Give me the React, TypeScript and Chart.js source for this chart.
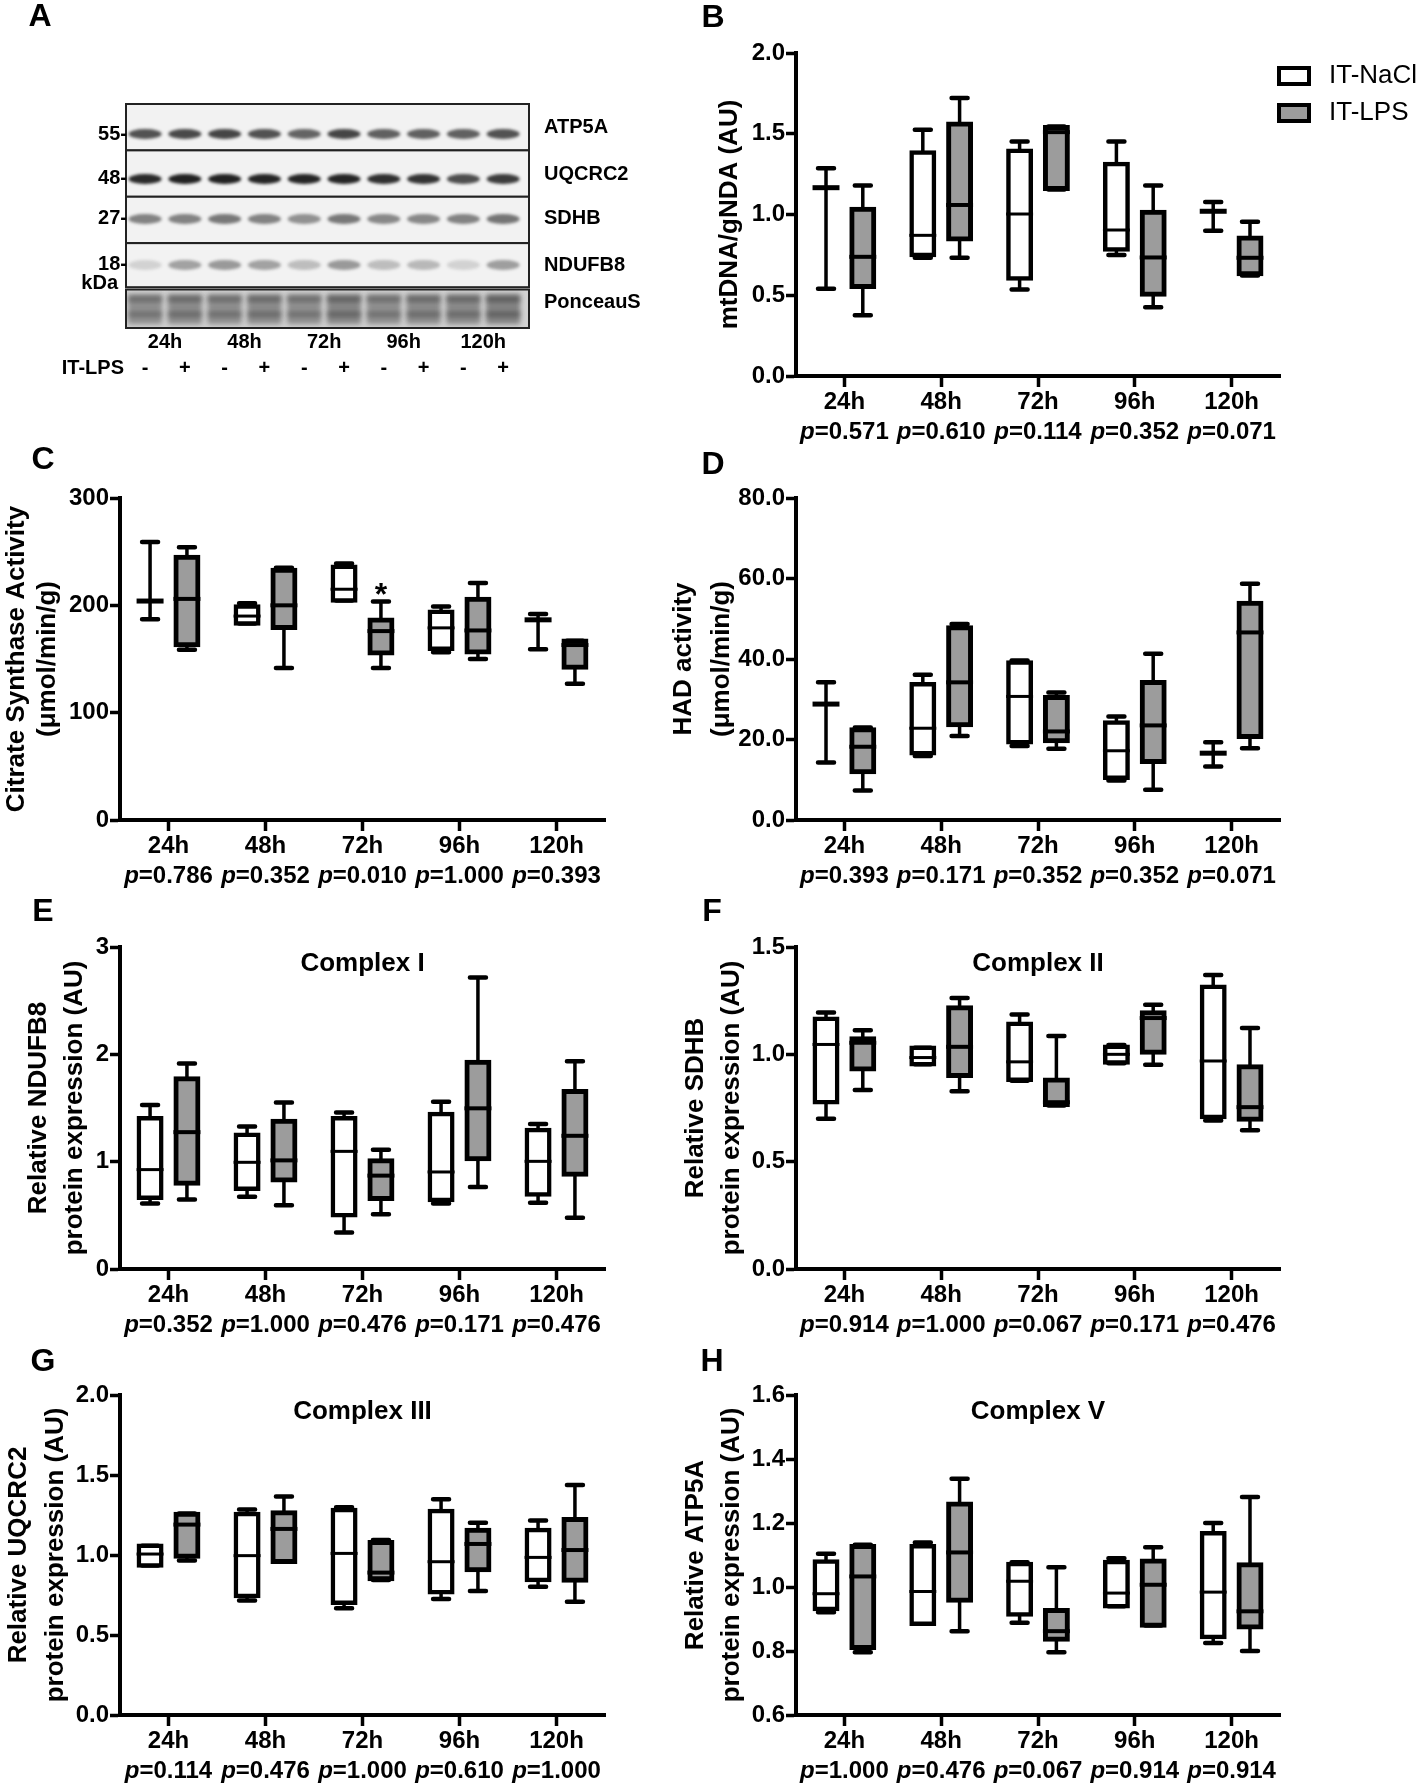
import React, { useEffect, useRef } from 'react';
import { Chart, registerables } from 'chart.js';

Chart.register(...registerables);

const FONT = "'Liberation Sans', Arial, Helvetica, sans-serif";
const GRAY = '#9c9c9c';

// ---------------- data ----------------
const TIMEPOINTS = ['24h', '48h', '72h', '96h', '120h'];
const GROUPS = ['IT-NaCl', 'IT-LPS'];

// each box: [min, q1, median, q3, max]
const mtDNA_NaCl = [[0.54, 1.166, 1.166, 1.166, 1.287], [0.732, 0.749, 0.871, 1.384, 1.524], [0.536, 0.604, 1.003, 1.394, 1.452], [0.749, 0.784, 0.904, 1.313, 1.452], [0.9, 1.02, 1.02, 1.02, 1.078]];
const mtDNA_LPS = [[0.376, 0.552, 0.738, 1.034, 1.179], [0.732, 0.846, 1.059, 1.562, 1.721], [1.155, 1.16, 1.51, 1.54, 1.545], [0.426, 0.505, 0.734, 1.016, 1.179], [0.623, 0.631, 0.732, 0.856, 0.955]];
const mtDNA_p = ['0.571', '0.610', '0.114', '0.352', '0.071'];

const cs_NaCl = [[187, 204, 204, 204, 259], [183, 183, 190, 199, 202], [204.6, 204.6, 215, 236, 239], [156.4, 159.5, 179, 194, 199], [159, 186.5, 186.5, 186.5, 192]];
const cs_LPS = [[158.6, 163, 206, 245, 254], [141.5, 179, 200, 233, 235], [141.5, 155.4, 176, 186.5, 203.6], [150, 156.4, 176.6, 206, 220.7], [127, 142, 163, 167, 167]];
const cs_p = ['0.786', '0.352', '0.010', '1.000', '0.393'];

const had_NaCl = [[14.3, 28.8, 28.8, 28.8, 34.2], [15.9, 16.6, 22.8, 33.7, 36.1], [18.4, 19.3, 30.7, 39.1, 39.6], [9.8, 10.5, 17.2, 24.2, 25.7], [13.3, 16.6, 16.6, 16.6, 19.3]];
const had_LPS = [[7.3, 11.9, 18.2, 22.5, 23.0], [20.9, 23.6, 34.2, 47.8, 48.7], [17.7, 19.6, 22.0, 30.5, 31.7], [7.5, 14.5, 23.5, 34.2, 41.3], [17.8, 20.7, 46.6, 53.9, 58.7]];
const had_p = ['0.393', '0.171', '0.352', '0.352', '0.071'];

const ndufb8_NaCl = [[0.611, 0.664, 0.926, 1.404, 1.528], [0.673, 0.747, 0.994, 1.25, 1.327], [0.34, 0.5, 1.096, 1.404, 1.457], [0.611, 0.642, 0.904, 1.444, 1.559], [0.617, 0.694, 1.003, 1.296, 1.352]];
const ndufb8_LPS = [[0.648, 0.796, 1.275, 1.775, 1.914], [0.593, 0.827, 1.012, 1.38, 1.552], [0.509, 0.654, 0.87, 1.012, 1.111], [0.765, 1.025, 1.497, 1.929, 2.716], [0.478, 0.88, 1.241, 1.657, 1.935]];
const ndufb8_p = ['0.352', '1.000', '0.476', '0.171', '0.476'];

const sdhb_NaCl = [[0.7, 0.777, 1.046, 1.166, 1.195], [0.954, 0.954, 0.985, 1.031, 1.031], [0.877, 0.882, 0.965, 1.142, 1.185], [0.958, 0.962, 1.0, 1.035, 1.043], [0.692, 0.708, 0.969, 1.315, 1.369]];
const sdhb_LPS = [[0.834, 0.931, 1.054, 1.074, 1.112], [0.828, 0.9, 1.035, 1.218, 1.262], [0.762, 0.765, 0.777, 0.882, 1.085], [0.951, 1.008, 1.169, 1.195, 1.231], [0.646, 0.697, 0.754, 0.943, 1.123]];
const sdhb_p = ['0.914', '1.000', '0.067', '0.171', '0.476'];

const uqcrc2_NaCl = [[0.935, 0.935, 1.006, 1.058, 1.058], [0.715, 0.744, 0.996, 1.256, 1.285], [0.667, 0.702, 1.01, 1.281, 1.298], [0.725, 0.767, 0.958, 1.275, 1.348], [0.802, 0.844, 0.985, 1.156, 1.215]];
const uqcrc2_LPS = [[0.965, 0.99, 1.19, 1.256, 1.26], [0.958, 0.958, 1.163, 1.265, 1.365], [0.844, 0.85, 0.89, 1.079, 1.094], [0.775, 0.906, 1.069, 1.156, 1.202], [0.708, 0.84, 1.031, 1.223, 1.4375]];
const uqcrc2_p = ['0.114', '0.476', '1.000', '0.610', '1.000'];

const atp5a_NaCl = [[0.921, 0.931, 0.979, 1.08, 1.104], [0.885, 0.885, 0.986, 1.127, 1.139], [0.888, 0.914, 1.018, 1.072, 1.077], [0.94, 0.94, 0.981, 1.078, 1.09], [0.825, 0.844, 0.984, 1.168, 1.2]];
const atp5a_LPS = [[0.796, 0.81, 1.033, 1.127, 1.132], [0.862, 0.958, 1.108, 1.26, 1.338], [0.796, 0.836, 0.862, 0.927, 1.062], [0.88, 0.88, 1.007, 1.082, 1.124], [0.8, 0.874, 0.924, 1.07, 1.281]];
const atp5a_p = ['1.000', '0.476', '0.067', '0.914', '0.914'];

// western blot (panel A)
const BLOT_PROTEINS = ['ATP5A', 'UQCRC2', 'SDHB', 'NDUFB8', 'PonceauS'];
const BLOT_MARKERS = ['55', '48', '27', '18'];
const BLOT_LPS_SIGNS = ['-', '+', '-', '+', '-', '+', '-', '+', '-', '+'];
const BAND_ATP5A = [0.72, 0.76, 0.78, 0.72, 0.64, 0.78, 0.66, 0.66, 0.66, 0.72];
const BAND_UQCRC2 = [0.9, 0.94, 0.94, 0.92, 0.92, 0.92, 0.88, 0.86, 0.74, 0.82];
const BAND_SDHB = [0.5, 0.5, 0.55, 0.5, 0.44, 0.55, 0.48, 0.48, 0.5, 0.56];
const BAND_NDUFB8 = [0.14, 0.36, 0.4, 0.36, 0.24, 0.4, 0.24, 0.26, 0.14, 0.38];
const BAND_PONCEAU = [0.55, 0.58, 0.56, 0.58, 0.55, 0.62, 0.55, 0.58, 0.6, 0.66];

// ---------------- layout ----------------
const COL_L = { left: 0, width: 640, l: 120, r: 605, yW: 120 };
const COL_R = { left: 640, width: 778, l: 796, r: 1280, yW: 150 };
const ROWS = [
  { top: 0, height: 445, t: 53, b: 376 },
  { top: 445, height: 448, t: 498, b: 820 },
  { top: 893, height: 447, t: 947, b: 1269 },
  { top: 1340, height: 445, t: 1395, b: 1715 },
];
const X_AXIS_H = 40;
const TITLE_SIZE = 26;
const INFLATE = 2.25;
const CAP = 16;

interface PanelCfg {
  letter: string;
  letterPos: number[];
  col: typeof COL_L;
  row: typeof ROWS[0];
  yMin: number; yMax: number; yStep: number; yDec: number;
  yTitle: string[]; yTitleX: number; yTitleSpacing: number;
  nacl: number[][]; lps: number[][]; pvals: string[];
  complex?: string;
  stars?: { cat: number; group: number }[];
  legend?: boolean;
}

const PANELS: PanelCfg[] = [
  { letter: 'B', letterPos: [713, 18], col: COL_R, row: ROWS[0], yMin: 0, yMax: 2, yStep: 0.5, yDec: 1, yTitle: ['mtDNA/gNDA (AU)'], yTitleX: 730, yTitleSpacing: 31, nacl: mtDNA_NaCl, lps: mtDNA_LPS, pvals: mtDNA_p, legend: true },
  { letter: 'C', letterPos: [43, 460], col: COL_L, row: ROWS[1], yMin: 0, yMax: 300, yStep: 100, yDec: 0, yTitle: ['Citrate Synthase Activity', '(μmol/min/g)'], yTitleX: 17, yTitleSpacing: 31, nacl: cs_NaCl, lps: cs_LPS, pvals: cs_p, stars: [{ cat: 2, group: 1 }] },
  { letter: 'D', letterPos: [713, 465], col: COL_R, row: ROWS[1], yMin: 0, yMax: 80, yStep: 20, yDec: 1, yTitle: ['HAD activity', '(μmol/min/g)'], yTitleX: 684, yTitleSpacing: 37.5, nacl: had_NaCl, lps: had_LPS, pvals: had_p },
  { letter: 'E', letterPos: [43, 912], col: COL_L, row: ROWS[2], yMin: 0, yMax: 3, yStep: 1, yDec: 0, yTitle: ['Relative NDUFB8', 'protein expression (AU)'], yTitleX: 39, yTitleSpacing: 36, nacl: ndufb8_NaCl, lps: ndufb8_LPS, pvals: ndufb8_p, complex: 'Complex I' },
  { letter: 'F', letterPos: [712, 912], col: COL_R, row: ROWS[2], yMin: 0, yMax: 1.5, yStep: 0.5, yDec: 1, yTitle: ['Relative SDHB', 'protein expression (AU)'], yTitleX: 696, yTitleSpacing: 36, nacl: sdhb_NaCl, lps: sdhb_LPS, pvals: sdhb_p, complex: 'Complex II' },
  { letter: 'G', letterPos: [43, 1362], col: COL_L, row: ROWS[3], yMin: 0, yMax: 2, yStep: 0.5, yDec: 1, yTitle: ['Relative UQCRC2', 'protein expression (AU)'], yTitleX: 19, yTitleSpacing: 37, nacl: uqcrc2_NaCl, lps: uqcrc2_LPS, pvals: uqcrc2_p, complex: 'Complex III' },
  { letter: 'H', letterPos: [712, 1362], col: COL_R, row: ROWS[3], yMin: 0.6, yMax: 1.6, yStep: 0.2, yDec: 1, yTitle: ['Relative ATP5A', 'protein expression (AU)'], yTitleX: 696, yTitleSpacing: 36, nacl: atp5a_NaCl, lps: atp5a_LPS, pvals: atp5a_p, complex: 'Complex V' },
];

function line(ctx: CanvasRenderingContext2D, x1: number, y1: number, x2: number, y2: number) {
  ctx.moveTo(x1, y1);
  ctx.lineTo(x2, y2);
}

function buildBoxChart(canvas: HTMLCanvasElement, cfg: PanelCfg) {
  const { col, row } = cfg;
  const padLeft = col.l - col.left - col.yW;
  const padTop = row.t - row.top;
  const padRight = col.width - (col.r - col.left);
  const padBottom = row.height - (row.b - row.top) - X_AXIS_H;
  const lh = cfg.yTitleSpacing / TITLE_SIZE;
  const titlePad = cfg.yTitleX - col.left - padLeft - cfg.yTitleSpacing / 2;
  const stats = [cfg.nacl, cfg.lps];

  const plugin = {
    id: 'boxplot' + cfg.letter,
    beforeDatasetsDraw(chart: any) {
      const ctx = chart.ctx as CanvasRenderingContext2D;
      const ys = chart.scales.y;
      stats.forEach((arr, di) => {
        const meta = chart.getDatasetMeta(di);
        meta.data.forEach((el: any, i: number) => {
          const [mn, q1, , q3, mx] = arr[i];
          const x = el.x;
          ctx.save();
          ctx.strokeStyle = '#000';
          ctx.lineWidth = 3.5;
          ctx.beginPath();
          line(ctx, x, ys.getPixelForValue(q3), x, ys.getPixelForValue(mx));
          line(ctx, x, ys.getPixelForValue(q1), x, ys.getPixelForValue(mn));
          ctx.stroke();
          ctx.lineWidth = 4.5;
          ctx.lineCap = 'round';
          ctx.beginPath();
          [mx, mn].forEach((v) => {
            const y = ys.getPixelForValue(v);
            line(ctx, x - CAP / 2, y, x + CAP / 2, y);
          });
          ctx.stroke();
          ctx.restore();
        });
      });
    },
    afterDatasetsDraw(chart: any) {
      const ctx = chart.ctx as CanvasRenderingContext2D;
      const ys = chart.scales.y;
      stats.forEach((arr, di) => {
        const meta = chart.getDatasetMeta(di);
        meta.data.forEach((el: any, i: number) => {
          const [, q1, med, q3] = arr[i];
          const x = el.x;
          const w = el.width + 2 * INFLATE;
          const y = ys.getPixelForValue(med);
          ctx.save();
          ctx.strokeStyle = '#000';
          ctx.lineWidth = q3 - q1 < 1e-9 ? 5 : di === 0 ? 3 : 4;
          ctx.beginPath();
          line(ctx, x - w / 2, y, x + w / 2, y);
          ctx.stroke();
          ctx.restore();
        });
      });
      (cfg.stars || []).forEach((s) => {
        const el = chart.getDatasetMeta(s.group).data[s.cat];
        const y = ys.getPixelForValue(stats[s.group][s.cat][4]);
        ctx.save();
        ctx.fillStyle = '#000';
        ctx.font = `bold 32px ${FONT}`;
        ctx.textAlign = 'center';
        ctx.textBaseline = 'alphabetic';
        ctx.fillText('*', el.x, y + 4);
        ctx.restore();
      });
    },
    afterDraw(chart: any) {
      const ctx = chart.ctx as CanvasRenderingContext2D;
      const xs = chart.scales.x;
      const area = chart.chartArea;
      ctx.save();
      ctx.fillStyle = '#000';
      ctx.textBaseline = 'middle';
      // p values
      const yP = area.bottom + 56;
      cfg.pvals.forEach((pv, i) => {
        ctx.font = `italic bold 24px ${FONT}`;
        const wp = ctx.measureText('p').width;
        ctx.font = `bold 24px ${FONT}`;
        const rest = '=' + pv;
        const wr = ctx.measureText(rest).width;
        const x0 = xs.getPixelForTick(i) - (wp + wr) / 2;
        ctx.textAlign = 'left';
        ctx.font = `italic bold 24px ${FONT}`;
        ctx.fillText('p', x0, yP);
        ctx.font = `bold 24px ${FONT}`;
        ctx.fillText(rest, x0 + wp, yP);
      });
      // complex title
      if (cfg.complex) {
        ctx.font = `bold 26px ${FONT}`;
        ctx.textAlign = 'center';
        ctx.fillText(cfg.complex, (area.left + area.right) / 2, area.top + 17);
      }
      // panel letter
      ctx.font = `bold 32px ${FONT}`;
      ctx.textAlign = 'center';
      ctx.fillText(cfg.letter, cfg.letterPos[0] - col.left, cfg.letterPos[1] - row.top);
      // legend
      if (cfg.legend) {
        const bx = 1277 - col.left;
        const tops = [66 - row.top, 103 - row.top];
        chart.data.datasets.forEach((ds: any, i: number) => {
          ctx.fillStyle = ds.backgroundColor;
          ctx.fillRect(bx + 2, tops[i] + 2, 30, 16);
          ctx.strokeStyle = '#000';
          ctx.lineWidth = 4;
          ctx.strokeRect(bx + 2, tops[i] + 2, 30, 16);
          ctx.fillStyle = '#000';
          ctx.font = `26px ${FONT}`;
          ctx.textAlign = 'left';
          ctx.fillText(ds.label, 1329 - col.left, tops[i] + 10);
        });
      }
      ctx.restore();
    },
  };

  const axisGrid = (len: number) => ({
    display: true,
    drawOnChartArea: false,
    drawTicks: true,
    tickLength: len,
    tickWidth: 3.5,
    tickColor: '#000',
    offset: false,
  });

  return new Chart(canvas, {
    type: 'bar',
    data: {
      labels: TIMEPOINTS,
      datasets: [
        {
          label: GROUPS[0],
          data: cfg.nacl.map((b) => [b[1], b[3]]),
          backgroundColor: '#ffffff',
          borderColor: '#000000',
          borderWidth: 4.5,
          borderSkipped: false,
          inflateAmount: INFLATE,
          categoryPercentage: 0.76,
          barPercentage: 0.61,
        },
        {
          label: GROUPS[1],
          data: cfg.lps.map((b) => [b[1], b[3]]),
          backgroundColor: GRAY,
          borderColor: '#000000',
          borderWidth: 5,
          borderSkipped: false,
          inflateAmount: INFLATE,
          categoryPercentage: 0.76,
          barPercentage: 0.61,
        },
      ],
    } as any,
    options: {
      responsive: false,
      maintainAspectRatio: false,
      animation: false,
      layout: { padding: { left: padLeft, top: padTop, right: padRight, bottom: padBottom } },
      plugins: { legend: { display: false }, tooltip: { enabled: false }, title: { display: false } },
      scales: {
        x: {
          type: 'category',
          offset: true,
          grid: axisGrid(11),
          border: { display: true, color: '#000', width: 4 },
          ticks: { color: '#000', font: { family: FONT, size: 24, weight: 'bold' }, padding: 1, maxRotation: 0, autoSkip: false },
          afterFit: (s: any) => { s.height = X_AXIS_H; },
        },
        y: {
          type: 'linear',
          min: cfg.yMin,
          max: cfg.yMax,
          grid: axisGrid(10),
          border: { display: true, color: '#000', width: 4 },
          ticks: {
            stepSize: cfg.yStep,
            color: '#000',
            padding: 1,
            font: { family: FONT, size: 24, weight: 'bold' },
            callback: (v: any) => Number(v).toFixed(cfg.yDec),
          },
          title: {
            display: true,
            text: cfg.yTitle,
            color: '#000',
            font: { family: FONT, size: TITLE_SIZE, weight: 'bold', lineHeight: lh },
            padding: { top: titlePad, bottom: 0 },
          },
          afterFit: (s: any) => { s.width = col.yW; },
        },
      },
    } as any,
    plugins: [plugin],
  });
}

function buildBlotChart(canvas: HTMLCanvasElement) {
  const bands = [BAND_ATP5A, BAND_UQCRC2, BAND_SDHB, BAND_NDUFB8];
  const stripEdges = [0, 1, 2, 3, 3.95];
  const bandY = [0.647, 1.616, 2.478, 3.47];
  const labelY = [0.5, 1.51, 2.46, 3.49, 4.29];
  const plugin = {
    id: 'blot',
    afterDraw(chart: any) {
      const ctx = chart.ctx as CanvasRenderingContext2D;
      const xs = chart.scales.x;
      const ys = chart.scales.y;
      const L = xs.getPixelForValue(0.52);
      const R = xs.getPixelForValue(10.65);
      ctx.save();
      // protein strips
      for (let s = 0; s < 4; s++) {
        const t = ys.getPixelForValue(stripEdges[s]);
        const b = ys.getPixelForValue(stripEdges[s + 1]);
        ctx.fillStyle = '#f2f2f2';
        ctx.fillRect(L, t, R - L, b - t);
        ctx.save();
        ctx.beginPath();
        ctx.rect(L, t, R - L, b - t);
        ctx.clip();
        ctx.filter = 'blur(1.8px)';
        bands[s].forEach((v, i) => {
          const x = xs.getPixelForValue(i + 1);
          const y = ys.getPixelForValue(bandY[s]);
          ctx.fillStyle = `rgba(20,20,20,${v})`;
          ctx.beginPath();
          ctx.ellipse(x, y, 16.5, 5, 0, 0, Math.PI * 2);
          ctx.fill();
        });
        ctx.restore();
        ctx.strokeStyle = '#222';
        ctx.lineWidth = 2;
        ctx.strokeRect(L, t, R - L, b - t);
      }
      // ponceau strip
      const pt = ys.getPixelForValue(4.0);
      const pb = ys.getPixelForValue(4.83);
      ctx.fillStyle = '#d2d2d2';
      ctx.fillRect(L, pt, R - L, pb - pt);
      ctx.save();
      ctx.beginPath();
      ctx.rect(L, pt, R - L, pb - pt);
      ctx.clip();
      ctx.filter = 'blur(2.5px)';
      BAND_PONCEAU.forEach((v, i) => {
        const x = xs.getPixelForValue(i + 1);
        ctx.fillStyle = `rgba(40,40,40,${v * 0.7})`;
        ctx.fillRect(x - 17, ys.getPixelForValue(4.1), 34, ys.getPixelForValue(4.75) - ys.getPixelForValue(4.1));
        ctx.fillStyle = `rgba(30,30,30,${v * 0.6})`;
        ctx.fillRect(x - 17, ys.getPixelForValue(4.14), 34, 6);
        ctx.fillRect(x - 17, ys.getPixelForValue(4.48), 34, 5);
      });
      ctx.restore();
      ctx.strokeStyle = '#222';
      ctx.lineWidth = 2;
      ctx.strokeRect(L, pt, R - L, pb - pt);

      // text
      ctx.fillStyle = '#000';
      ctx.font = `bold 20px ${FONT}`;
      ctx.textBaseline = 'middle';
      ctx.textAlign = 'right';
      BLOT_MARKERS.forEach((m, i) => ctx.fillText(m + '-', L + 1, ys.getPixelForValue(bandY[i])));
      ctx.fillText('kDa', L - 8, ys.getPixelForValue(3.86));
      ctx.textAlign = 'left';
      BLOT_PROTEINS.forEach((p, i) => ctx.fillText(p, R + 15, ys.getPixelForValue(labelY[i])));
      ctx.textAlign = 'center';
      TIMEPOINTS.forEach((t, k) => ctx.fillText(t, xs.getPixelForValue(2 * k + 1.5), ys.getPixelForValue(5.15)));
      BLOT_LPS_SIGNS.forEach((s, i) => ctx.fillText(s, xs.getPixelForValue(i + 1), ys.getPixelForValue(5.71)));
      ctx.textAlign = 'right';
      ctx.fillText('IT-LPS', L - 2, ys.getPixelForValue(5.71));
      ctx.font = `bold 32px ${FONT}`;
      ctx.textAlign = 'center';
      ctx.fillText('A', 40, 17);
      ctx.restore();
    },
  };
  return new Chart(canvas, {
    type: 'scatter',
    data: { datasets: [] },
    options: {
      responsive: false,
      maintainAspectRatio: false,
      animation: false,
      layout: { padding: { left: 126, top: 104, right: 640 - 529, bottom: 445 - 328 } },
      plugins: { legend: { display: false }, tooltip: { enabled: false } },
      scales: {
        x: { type: 'linear', min: 0.52, max: 10.65, display: false },
        y: { type: 'linear', min: 0, max: 4.83, reverse: true, display: false },
      },
    } as any,
    plugins: [plugin],
  });
}

function ChartBox(props: { left: number; top: number; width: number; height: number; build: (c: HTMLCanvasElement) => Chart }) {
  const ref = useRef<HTMLCanvasElement>(null);
  const { left, top, width, height, build } = props;
  useEffect(() => {
    const chart = build(ref.current as HTMLCanvasElement);
    return () => chart.destroy();
  }, []);
  return (
    <div style={{ position: 'absolute', left, top, width, height }}>
      <canvas ref={ref} width={width} height={height} style={{ display: 'block', width, height }} />
    </div>
  );
}

export default function App() {
  return (
    <div style={{ position: 'absolute', left: 0, top: 0, width: 1418, height: 1785, overflow: 'hidden', background: '#fff' }}>
      <ChartBox left={0} top={0} width={640} height={445} build={buildBlotChart} />
      {PANELS.map((p) => (
        <ChartBox
          key={p.letter}
          left={p.col.left}
          top={p.row.top}
          width={p.col.width}
          height={p.row.height}
          build={(c) => buildBoxChart(c, p)}
        />
      ))}
    </div>
  );
}
